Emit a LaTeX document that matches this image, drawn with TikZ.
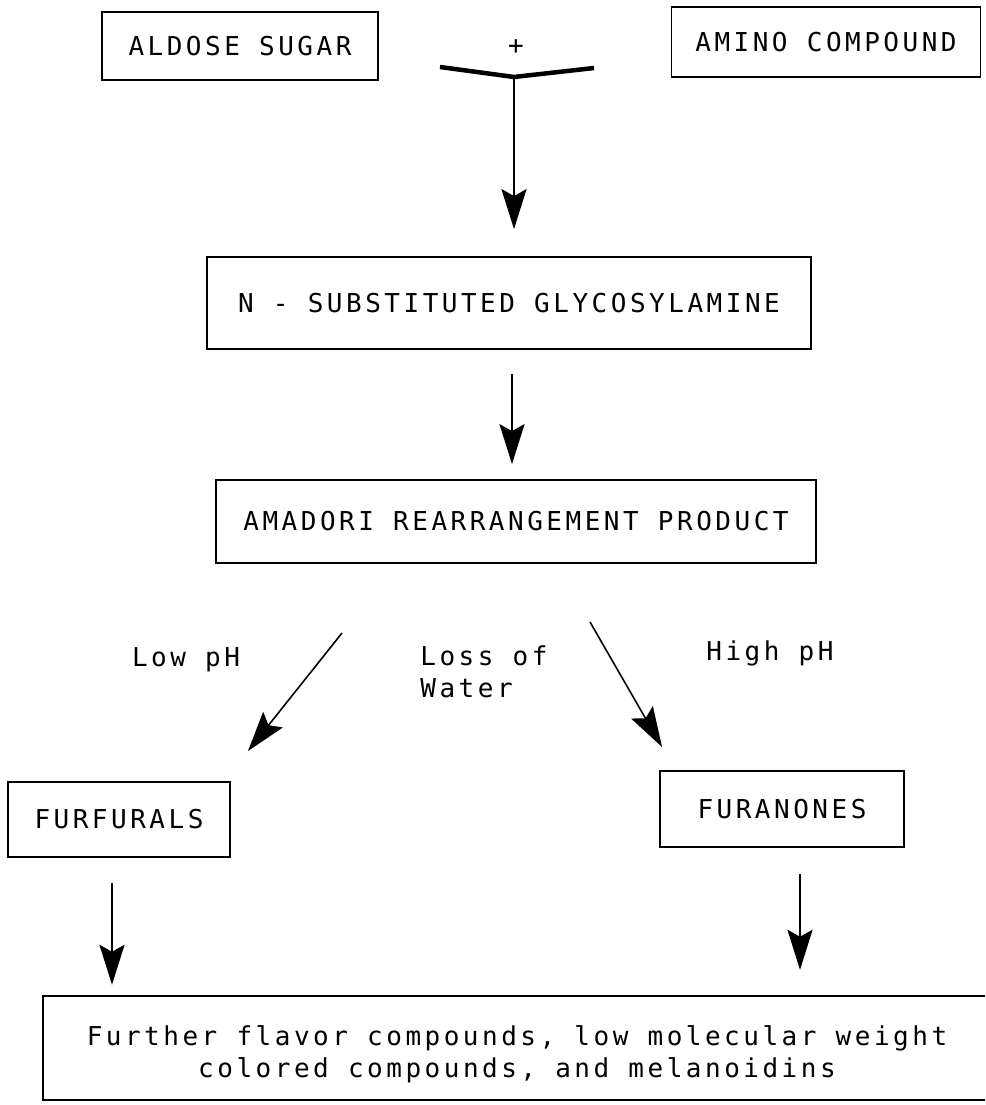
\documentclass[tikz,border=0pt]{standalone}
\usepackage{fontspec}
\usepackage{tikz}
\usetikzlibrary{arrows.meta}
\newfontfamily\plotfont{DejaVu Sans Mono}[LetterSpace=13.5]

\begin{document}
\begin{tikzpicture}[x=1pt, y=-1pt,
        every node/.style={font={\plotfont\fontsize{26pt}{32pt}\selectfont}},
        stage/.style={draw, line width=1.8pt, inner sep=0pt},
        flow/.style={line width=2.6pt, -{Stealth[length=40pt, width=25pt, inset=7pt]}},
        slant/.style={line width=1.6pt, -{Stealth[length=40pt, width=25pt, inset=7pt]}}]

                    \path[use as bounding box] (0,0) rectangle (985,1105);

                    \node[stage, minimum width=276pt, minimum height=68pt] (ald) at (240,46) {ALDOSE SUGAR};
                    \node[stage, minimum width=309pt, minimum height=70pt] (ami) at (826,42) {AMINO COMPOUND};
                    \node (plus) at (516,47) {+};
                    \node[stage, minimum width=604pt, minimum height=92pt] (gly) at (509,303) {N - SUBSTITUTED GLYCOSYLAMINE};
                    \node[stage, minimum width=600pt, minimum height=83pt] (ama) at (516,521.5) {AMADORI REARRANGEMENT PRODUCT};
                    \node[stage, minimum width=222pt, minimum height=75pt] (fur) at (119,819.5) {FURFURALS};
                    \node[stage, minimum width=244pt, minimum height=76pt] (fan) at (782,809) {FURANONES};
                    \node[inner sep=0pt, minimum width=942pt, minimum height=104pt] (melbox) at (514,1048) {};
                    \node[align=center] (mel) at (517,1054) {Further flavor compounds, low molecular weight\\colored compounds, and melanoidins};

                    \node (low) at (186,660) {Low pH};
                    \node[align=left] (loss) at (484,672) {Loss of\\Water};
                    \node (high) at (770,653) {High pH};

                    \coordinate (armL) at (440,67);
                    \coordinate (join) at (514,77);
                    \coordinate (armR) at (594,68);
                    \coordinate (lowA) at (342,633);
                    \coordinate (lowB) at (248,751);
                    \coordinate (highA) at (590,622);
                    \coordinate (highB) at (662,747);

                    \draw[line width=1.8pt] (melbox.north east) -- (melbox.north west) -- (melbox.south west) -- (melbox.south east);

                    \draw[line width=4.5pt] (armL) -- (join) -- (armR);
                    \draw[flow, shorten >=27pt] (join) -- (join |- gly.north);
                    \draw[flow, line width=2pt, shorten <=24pt, shorten >=15pt] ([xshift=3pt]gly.south) -- ([xshift=3pt]gly.south |- ama.north);
                    \draw[slant] (lowA) -- (lowB);
                    \draw[slant] (highA) -- (highB);
                    \draw[flow, shorten <=25pt, shorten >=11pt] ([xshift=-7pt]fur.south) -- ([xshift=-7pt]fur.south |- melbox.north);
                    \draw[flow, shorten <=26pt, shorten >=26pt] ([xshift=18pt]fan.south) -- ([xshift=18pt]fan.south |- melbox.north);

                \end{tikzpicture}
\end{document}
